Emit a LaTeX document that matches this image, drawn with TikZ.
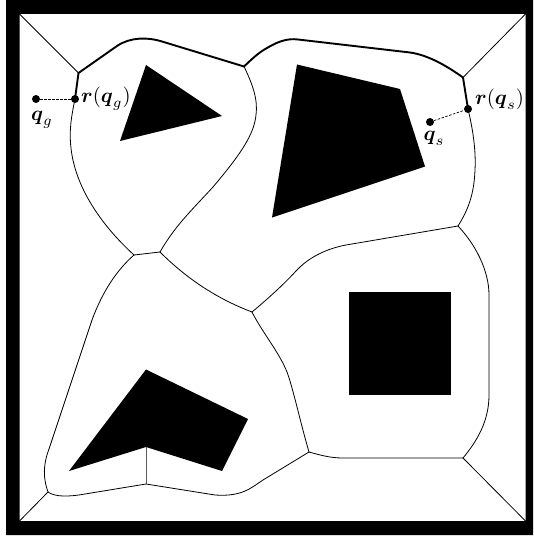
\documentclass[tikz,border=0pt]{standalone}
\usepackage{amsmath,amssymb}
\newcommand{\bsy}[1]{\boldsymbol{#1}}
\newcommand{\biglab}[1]{\scalebox{2.08}{$#1$}}
\tikzset{
  edgeline/.style={line width=0.8pt,line join=round,line cap=round},
  boldedge/.style={line width=1.9pt,line join=round,line cap=round},
  obstacle/.style={fill=black,draw=none},
  dotnode/.style={circle,fill=black,inner sep=0pt,minimum size=8pt},
  tie/.style={line width=0.7pt,dash pattern=on 2.5pt off 1.5pt},
  lab/.style={inner sep=0pt}
}
\begin{document}
\begin{tikzpicture}[x=1pt,y=-1pt]
\useasboundingbox (0,0) rectangle (533,537);
% frame
\fill[black,even odd rule] (6,0) rectangle (533,535) (19.5,14) rectangle (525.5,521);
% obstacles
\fill[obstacle] (146,65) -- (222,116) -- (120,141) -- cycle;
\fill[obstacle] (297,64.5) -- (400,89) -- (425,166.5) -- (272,217.5) -- cycle;
\fill[obstacle] (348.7,292.3) rectangle (451,395.3);
\fill[obstacle] (146,369.5) -- (248,419) -- (222,471) -- (146,447) -- (69,471) -- cycle;
% corners
\draw[edgeline] (19.5,14) -- (78.5,73);
\draw[edgeline] (525.5,14) -- (463,77.5);
\draw[edgeline] (19.5,521) -- (48,492);
\draw[edgeline] (525.5,521) -- (463,458);
% bold path
\draw[boldedge] (75,99) -- (78.5,73) -- (117,46) .. controls (130,37) and (148,37) .. (162,41.5) -- (244,66.5);
\draw[boldedge] (244,66.5) .. controls (252,59) and (258,53) .. (267,48) .. controls (277,42) and (287,38) .. (298,39.5) -- (410,52.5) .. controls (428,55) and (447,66) .. (463,77.5) -- (468,109);
% thin edges
\draw[edgeline] (75,99) .. controls (71,118) and (69,132) .. (71,148) .. controls (75,186) and (100,224) .. (134,255);
\draw[edgeline] (134,255) -- (160,252);
\draw[edgeline] (244,66.5) .. controls (253,85) and (258,100) .. (256,115) .. controls (254,135) and (240,155) .. (213,187) .. controls (190,212) and (175,226) .. (160,252);
\draw[edgeline] (468,109) .. controls (473,130) and (476,150) .. (475,170) .. controls (474,195) and (468,210) .. (458,226);
\draw[edgeline] (458,226) -- (346,245) .. controls (325,249) and (308,258) .. (296,271) .. controls (285,283) and (270,297) .. (252,312);
\draw[edgeline] (160,252) .. controls (185,277) and (215,298) .. (252,312);
\draw[edgeline] (134,255) .. controls (118,269) and (103,290) .. (92,320) -- (49,449) .. controls (43,465) and (43,478) .. (48,492);
\draw[edgeline] (252,312) .. controls (262,332) and (279,352) .. (287,372) .. controls (293,388) and (301,425) .. (309,452);
\draw[edgeline] (458,226) .. controls (475,244) and (489,270) .. (489,295) -- (489,395) .. controls (489,420) and (478,440) .. (463,458);
\draw[edgeline] (463,458) -- (343,458) .. controls (330,458) and (320,455) .. (309,452);
\draw[edgeline] (309,452) -- (263,480) .. controls (252,487) and (243,497) .. (215,495) -- (146,484);
\draw[edgeline] (146,484) -- (85,494) .. controls (68,497) and (55,497) .. (48,492);
\draw[line width=0.9pt,black!65] (146,447) -- (146,484);
% points and labels
\node[dotnode] (qg) at (36,99) {};
\node[dotnode] (rg) at (75,99) {};
\node[dotnode] (qs) at (430,122) {};
\node[dotnode] (rs) at (468,109) {};
\draw[tie] (qg) -- (rg);
\draw[tie] (qs) -- (rs);
\node[lab,anchor=west] (lrg) at (81,99) {\biglab{\bsy{r}(\bsy{q}_g)}};
\node[lab] (lqg) at (42,120) {\biglab{\bsy{q}_g}};
\node[lab,anchor=west] (lrs) at (475,99) {\biglab{\bsy{r}(\bsy{q}_s)}};
\node[lab] (lqs) at (434,138) {\biglab{\bsy{q}_s}};
\end{tikzpicture}
\end{document}
